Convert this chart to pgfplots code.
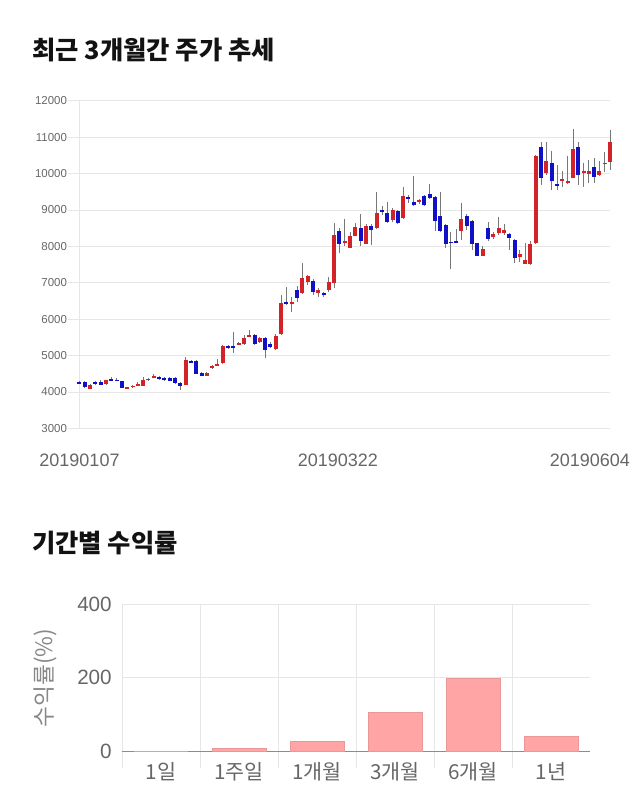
\documentclass[border=0pt]{standalone}
\usepackage{pgfplots}
\usepackage{pgfplotstable}
\pgfplotsset{compat=1.18}
\usepackage{fontspec}
\setmainfont{Liberation Sans}
\newfontfamily\kr{Noto Sans CJK KR}
\definecolor{gridcol}{HTML}{E6E6E6}
\definecolor{tickgray}{HTML}{666666}
\definecolor{labgray}{HTML}{888888}
\definecolor{wickgray}{HTML}{777777}
\definecolor{cred}{HTML}{D22328}
\definecolor{cblue}{HTML}{1010C8}
\definecolor{barpink}{HTML}{FFA5A5}
\definecolor{baredge}{HTML}{E89898}
\definecolor{axgray}{HTML}{8C8C8C}

\pgfplotstableread{
x o h l c
2 4090 4220 4080 4199
5 4218 4340 4200 4318
9 4105 4140 4090 4125
10 4140 4190 4120 4165
11 4180 4260 4160 4200
12 4172 4420 4160 4327
13 4318 4390 4300 4364
14 4405 4480 4390 4430
20 4199 4969 4190 4877
24 4446 4540 4430 4529
25 4666 4740 4640 4721
26 4712 4900 4700 4776
27 4785 5300 4780 5261
30 5305 5380 5280 5330
31 5307 5560 5290 5472
32 5525 5700 5500 5550
34 5362 5520 5340 5472
37 5188 5580 5150 5536
38 5591 6663 5560 6434
40 6406 6600 6205 6470
42 6727 7532 6700 7139
43 7029 7200 6950 7184
45 6727 6850 6600 6800
47 6791 7150 6750 7010
48 7001 8631 6846 8311
50 8091 8741 8000 8155
51 7963 8400 7950 8283
52 8292 8650 8280 8530
54 8073 8600 8060 8549
56 8494 9492 8480 8906
59 8723 9050 8680 8997
61 8768 9620 8750 9391
64 9236 9300 9150 9281
72 8412 9199 8180 8750
76 7734 8000 7720 7926
78 8247 8400 8200 8338
79 8357 8814 8300 8512
80 8357 8600 8300 8448
83 7697 7900 7560 7780
84 7523 8080 7510 7624
85 7514 8155 7500 8064
86 8100 10500 8050 10481
88 10023 10875 9950 10334
91 9815 10080 9620 9840
92 9767 10480 9700 9794
93 9886 11213 9880 10664
95 10005 10280 9640 10078
96 9986 10370 9750 10069
98 9950 10330 9940 10078
99 10265 10600 10050 10290
100 10325 11195 10100 10875
}\upcandles

\pgfplotstableread{
x o h l c
0 4270 4290 4210 4240
1 4273 4290 4110 4126
3 4250 4290 4180 4225
4 4263 4340 4180 4190
6 4364 4400 4290 4300
7 4330 4370 4290 4305
8 4300 4310 4110 4117
15 4419 4440 4340 4355
16 4375 4420 4310 4350
17 4382 4400 4290 4300
18 4382 4400 4230 4236
19 4236 4260 4060 4163
21 4845 4870 4790 4815
22 4859 4870 4490 4501
23 4529 4540 4440 4446
28 5271 5300 5180 5197
29 5245 5637 5060 5220
33 5564 5600 5300 5325
35 5472 5520 4923 5161
36 5316 5360 5200 5243
39 6479 6892 6380 6424
41 6791 6900 6480 6580
44 7056 7100 6650 6754
46 6727 6750 6620 6653
49 8421 8500 7826 8055
53 8494 8888 8009 8155
55 8549 8600 8036 8448
57 8997 9100 8850 8943
58 8906 9217 8650 8677
60 8970 9000 8620 8649
62 9355 9400 9200 9291
63 9217 9932 9100 9135
65 9391 9420 9100 9126
66 9446 9703 9300 9318
67 9355 9380 8421 8704
68 8823 9492 8400 8421
69 8585 8600 7963 8073
70 8128 8380 7367 8082
71 8140 8480 8100 8115
73 8833 8900 8450 8567
74 8695 8720 7900 8073
75 8082 8100 7720 7734
77 8503 8680 8150 8201
81 8338 8360 7900 8219
82 8173 8200 7532 7688
87 10719 10875 9684 9867
89 10279 10618 9547 9794
90 9700 10230 9550 9675
94 10719 10875 9684 9959
97 10169 10420 9730 9913
}\downcandles

\pgfplotstableread{
x ret
0 0
1 7.3
2 26.4
3 106.6
4 198.6
5 39.2
}\returns

\begin{document}
\begin{tikzpicture}
\path[use as bounding box] (0,0) rectangle (480pt,-607.5pt);

\node[anchor=west, inner sep=0pt, text=black!93] at (24pt,-37.5pt)
  {\kr\bfseries\fontsize{19pt}{21pt}\selectfont 최근 3개월간 주가 추세};
\node[anchor=west, inner sep=0pt, text=black!93] at (24pt,-407.25pt)
  {\kr\bfseries\fontsize{19pt}{21pt}\selectfont 기간별 수익률};

% ---------- candlestick chart ----------
\begin{axis}[
  at={(59.625pt,-321.225pt)}, anchor=south west,
  scale only axis, width=397.9pt, height=245.7pt,
  xmin=0, xmax=100, ymin=3000, ymax=12000,
  ytick={3000,4000,...,12000},
  xtick={0,48.7,96.2},
  xticklabels={20190107,20190322,20190604},
  /pgf/number format/assume math mode=true,
  /pgf/number format/set thousands separator={},
  scaled y ticks=false,
  ymajorgrids, grid style={draw=gridcol, line width=0.6pt},
  axis x line*=bottom, axis y line*=left,
  x axis line style={draw=none},
  y axis line style={draw=gridcol, line width=0.6pt, -},
  tick align=outside, major tick length=8.25pt,
  ytick style={draw=gridcol, line width=0.6pt},
  xtick style={draw=none},
  yticklabel style={font=\fontsize{8.6pt}{10pt}\selectfont, text=tickgray, inner sep=1pt},
  xticklabel style={font=\fontsize{13.5pt}{15pt}\selectfont, text=tickgray, inner sep=0pt, yshift=-11pt},
  clip=false,
]
\addplot[draw=none, mark=none, error bars/.cd, y dir=both, y explicit, error mark=none,
  error bar style={draw=wickgray, line width=0.6pt}]
  table[x=x, y expr={(\thisrow{h}+\thisrow{l})/2}, y error expr={(\thisrow{h}-\thisrow{l})/2}] {\upcandles};
\addplot[draw=none, mark=none, error bars/.cd, y dir=both, y explicit, error mark=none,
  error bar style={draw=wickgray, line width=0.6pt}]
  table[x=x, y expr={(\thisrow{h}+\thisrow{l})/2}, y error expr={(\thisrow{h}-\thisrow{l})/2}] {\downcandles};
\addplot[draw=none, mark=none, error bars/.cd, y dir=both, y explicit, error mark=none,
  error bar style={draw=cred, line width=3pt}]
  table[x=x, y expr={(\thisrow{o}+\thisrow{c})/2}, y error expr={max(abs(\thisrow{c}-\thisrow{o}),45)/2}] {\upcandles};
\addplot[draw=none, mark=none, error bars/.cd, y dir=both, y explicit, error mark=none,
  error bar style={draw=cblue, line width=3pt}]
  table[x=x, y expr={(\thisrow{o}+\thisrow{c})/2}, y error expr={max(abs(\thisrow{c}-\thisrow{o}),45)/2}] {\downcandles};
\end{axis}

% ---------- returns bar chart ----------
\begin{axis}[
  at={(91.5pt,-563.25pt)}, anchor=south west,
  scale only axis, width=351pt, height=109.725pt,
  xmin=-0.5, xmax=5.5, ymin=0, ymax=400,
  ytick={0,200,400},
  xtick={0,1,2,3,4,5},
  xticklabels={1일,1주일,1개월,3개월,6개월,1년},
  minor xtick={-0.5,0.5,1.5,2.5,3.5,4.5},
  xminorgrids, ymajorgrids,
  minor x grid style={draw=gridcol, line width=0.6pt},
  major y grid style={draw=gridcol, line width=0.6pt},
  /pgf/number format/assume math mode=true,
  axis x line*=bottom, axis y line*=left,
  x axis line style={draw=axgray, line width=0.75pt, -},
  y axis line style={draw=none},
  tick align=outside, major tick length=0pt, minor tick length=12.75pt,
  minor tick style={draw=gridcol, line width=0.6pt},
  major tick style={draw=none},
  yticklabel style={font=\fontsize{15.5pt}{17pt}\selectfont, text=tickgray, inner sep=0pt, xshift=-7.5pt},
  xticklabel style={font=\kr\fontsize{15.5pt}{17pt}\selectfont, text=tickgray, inner sep=0pt, yshift=-8pt},
  ylabel={\kr\fontsize{17pt}{19pt}\selectfont\color{labgray}수익률(\%)},
  every axis y label/.style={at={(axis description cs:-0.1645,0.5)}, rotate=90, anchor=center},
  ybar, bar width=0.69,
  clip=false,
]
\addplot[ybar, fill=barpink, draw=baredge, line width=0.6pt, bar shift=0pt] table[x=x, y=ret] {\returns};
\end{axis}
\end{tikzpicture}
\end{document}
